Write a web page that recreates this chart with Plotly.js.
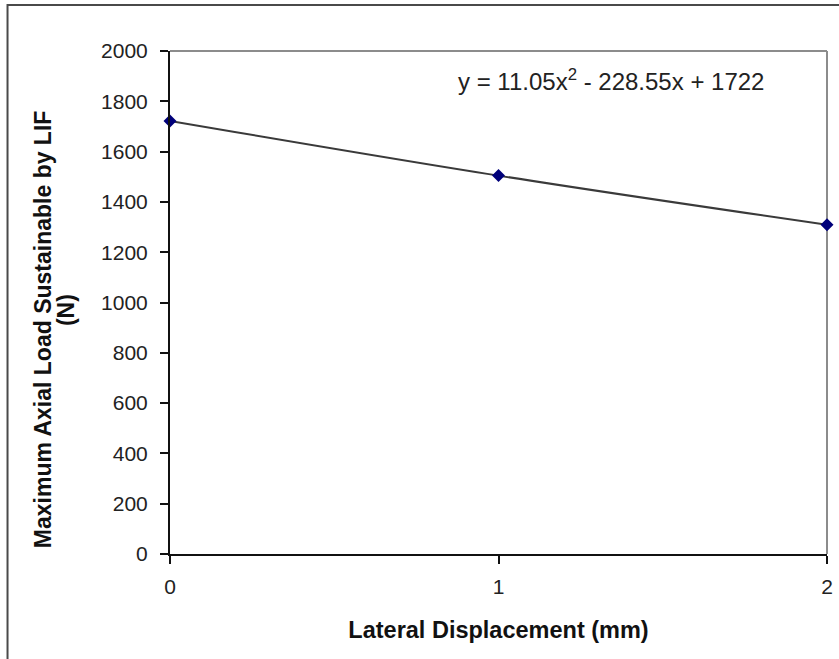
<!DOCTYPE html>
<html>
<head>
<meta charset="utf-8">
<script src="https://cdn.plot.ly/plotly-3.0.1.min.js"></script>
<style>
  html, body { margin: 0; padding: 0; background: #ffffff; }
  #chart { width: 839px; height: 659px; }
</style>
</head>
<body>
<div id="chart"></div>
<script>
// Lateral displacement of the implant (mm) and the maximum axial load it can carry (N)
const displacement = [0, 1, 2];
const maxLoad = [1722, 1504.5, 1309.1];
const xTicks = [0, 1, 2];
const yTicks = [0, 200, 400, 600, 800, 1000, 1200, 1400, 1600, 1800, 2000];
const fitLabel = 'y = 11.05x<sup>2</sup> - 228.55x + 1722';
const xTitle = 'Lateral Displacement (mm)';
const yTitleMain = 'Maximum Axial Load Sustainable by LIF';
const yTitleUnit = '(N)';

const FONT = 'Liberation Sans, Arial, sans-serif';

const trend = {
  x: displacement,
  y: maxLoad,
  type: 'scatter',
  mode: 'lines',
  line: { color: '#3a3a3a', width: 2, shape: 'spline' },
  hoverinfo: 'skip',
  showlegend: false
};

const points = {
  x: displacement,
  y: maxLoad,
  type: 'scatter',
  mode: 'markers',
  marker: { symbol: 'diamond', size: 10, color: '#00007a', line: { width: 0 } },
  showlegend: false,
  cliponaxis: false
};

const axisBase = {
  showgrid: false,
  zeroline: false,
  showline: true,
  linecolor: '#111111',
  linewidth: 2,
  ticks: 'outside',
  ticklen: 8,
  tickwidth: 2,
  tickcolor: '#111111',
  tickfont: { family: FONT, size: 21, color: '#222222' },
  automargin: false
};

const layout = {
  width: 839,
  height: 659,
  paper_bgcolor: '#ffffff',
  plot_bgcolor: '#ffffff',
  margin: { l: 170, r: 12, t: 51, b: 105 },
  showlegend: false,
  font: { family: FONT, color: '#222222' },
  xaxis: Object.assign({}, axisBase, {
    range: [0, 2],
    tickvals: xTicks,
    ticktext: xTicks.map(String),
    ticklabelstandoff: 5,
    title: {
      text: xTitle,
      font: { family: FONT, size: 23.5, color: '#111111', weight: 'bold' },
      standoff: 24
    }
  }),
  yaxis: Object.assign({}, axisBase, {
    range: [0, 2000],
    tickvals: yTicks,
    ticktext: yTicks.map(String),
    ticklabelstandoff: 8
  }),
  shapes: [
    // outer chart frame
    { type: 'rect', xref: 'paper', yref: 'paper', x0: -0.2473, x1: 1.3, y0: -0.5, y1: 1.0915,
      line: { color: '#4a4a4a', width: 2 }, fillcolor: 'rgba(0,0,0,0)', layer: 'below' },
    // plot area border, top and right
    { type: 'line', xref: 'paper', yref: 'paper', x0: 0, x1: 1, y0: 1, y1: 1,
      line: { color: '#8c8c8c', width: 2 }, layer: 'below' },
    { type: 'line', xref: 'paper', yref: 'paper', x0: 1, x1: 1, y0: 0, y1: 1,
      line: { color: '#8c8c8c', width: 2 }, layer: 'below' }
  ],
  annotations: [
    { x: 1.3425, y: 1885, xref: 'x', yref: 'y', text: fitLabel, showarrow: false,
      font: { family: FONT, size: 24, color: '#222222' }, xanchor: 'center', yanchor: 'middle' },
    // vertical axis title, set as two tightly spaced lines
    { x: -0.1933, y: 0.447, xref: 'paper', yref: 'paper', text: '<b>' + yTitleMain + '</b>',
      textangle: -90, showarrow: false, xanchor: 'center', yanchor: 'middle',
      font: { family: FONT, size: 23, color: '#111111' } },
    { x: -0.1583, y: 0.485, xref: 'paper', yref: 'paper', text: '<b>' + yTitleUnit + '</b>',
      textangle: -90, showarrow: false, xanchor: 'center', yanchor: 'middle',
      font: { family: FONT, size: 23, color: '#111111' } }
  ]
};

Plotly.newPlot('chart', [trend, points], layout, { displayModeBar: false, staticPlot: true });
</script>
</body>
</html>
